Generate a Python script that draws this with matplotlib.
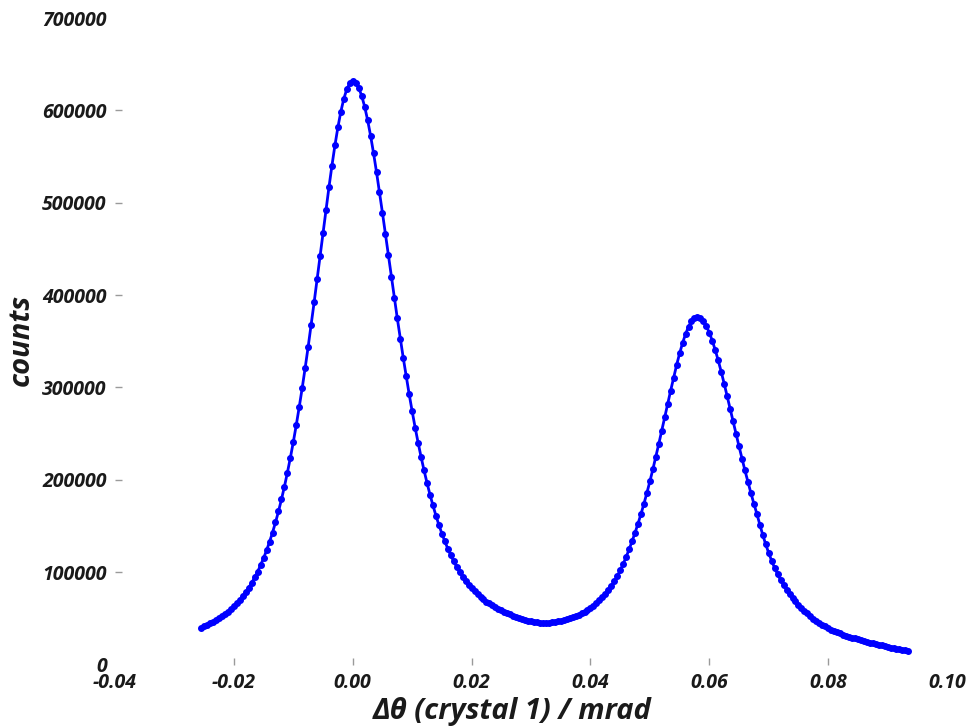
"""Rocking curve: counts vs. delta theta of crystal 1."""
import matplotlib
matplotlib.use('Agg')
import matplotlib.pyplot as plt

# ─── Data ──────────────────────────────────────────────────────────────────
dtheta = [
    -0.0255, -0.0250, -0.0245, -0.0240, -0.0235, -0.0230, -0.0225, -0.0220, -0.0215, -0.0210,
    -0.0205, -0.0200, -0.0195, -0.0190, -0.0185, -0.0180, -0.0175, -0.0170, -0.0165, -0.0160,
    -0.0155, -0.0150, -0.0145, -0.0140, -0.0135, -0.0130, -0.0125, -0.0120, -0.0115, -0.0110,
    -0.0105, -0.0100, -0.0095, -0.0090, -0.0085, -0.0080, -0.0075, -0.0070, -0.0065, -0.0060,
    -0.0055, -0.0050, -0.0045, -0.0040, -0.0035, -0.0030, -0.0025, -0.0020, -0.0015, -0.0010,
    -0.0005, 0.0000, 0.0005, 0.0010, 0.0015, 0.0020, 0.0025, 0.0030, 0.0035, 0.0040,
    0.0045, 0.0050, 0.0055, 0.0060, 0.0065, 0.0070, 0.0075, 0.0080, 0.0085, 0.0090,
    0.0095, 0.0100, 0.0105, 0.0110, 0.0115, 0.0120, 0.0125, 0.0130, 0.0135, 0.0140,
    0.0145, 0.0150, 0.0155, 0.0160, 0.0165, 0.0170, 0.0175, 0.0180, 0.0185, 0.0190,
    0.0195, 0.0200, 0.0205, 0.0210, 0.0215, 0.0220, 0.0225, 0.0230, 0.0235, 0.0240,
    0.0245, 0.0250, 0.0255, 0.0260, 0.0265, 0.0270, 0.0275, 0.0280, 0.0285, 0.0290,
    0.0295, 0.0300, 0.0305, 0.0310, 0.0315, 0.0320, 0.0325, 0.0330, 0.0335, 0.0340,
    0.0345, 0.0350, 0.0355, 0.0360, 0.0365, 0.0370, 0.0375, 0.0380, 0.0385, 0.0390,
    0.0395, 0.0400, 0.0405, 0.0410, 0.0415, 0.0420, 0.0425, 0.0430, 0.0435, 0.0440,
    0.0445, 0.0450, 0.0455, 0.0460, 0.0465, 0.0470, 0.0475, 0.0480, 0.0485, 0.0490,
    0.0495, 0.0500, 0.0505, 0.0510, 0.0515, 0.0520, 0.0525, 0.0530, 0.0535, 0.0540,
    0.0545, 0.0550, 0.0555, 0.0560, 0.0565, 0.0570, 0.0575, 0.0580, 0.0585, 0.0590,
    0.0595, 0.0600, 0.0605, 0.0610, 0.0615, 0.0620, 0.0625, 0.0630, 0.0635, 0.0640,
    0.0645, 0.0650, 0.0655, 0.0660, 0.0665, 0.0670, 0.0675, 0.0680, 0.0685, 0.0690,
    0.0695, 0.0700, 0.0705, 0.0710, 0.0715, 0.0720, 0.0725, 0.0730, 0.0735, 0.0740,
    0.0745, 0.0750, 0.0755, 0.0760, 0.0765, 0.0770, 0.0775, 0.0780, 0.0785, 0.0790,
    0.0795, 0.0800, 0.0805, 0.0810, 0.0815, 0.0820, 0.0825, 0.0830, 0.0835, 0.0840,
    0.0845, 0.0850, 0.0855, 0.0860, 0.0865, 0.0870, 0.0875, 0.0880, 0.0885, 0.0890,
    0.0895, 0.0900, 0.0905, 0.0910, 0.0915, 0.0920, 0.0925, 0.0930, 0.0935,
]

counts = [
    39800, 41300, 42800, 44500, 46200, 48200, 50200, 52400, 54800, 57400,
    60100, 63100, 66500, 70100, 74200, 78500, 83200, 88600, 94300, 100600,
    107700, 115300, 123600, 132900, 142900, 153900, 165700, 178700, 192600, 207700,
    223800, 241000, 259500, 279100, 299700, 321500, 344200, 367800, 392100, 417000,
    442300, 467500, 492600, 517000, 540300, 562100, 581700, 598800, 612700, 623000,
    629400, 631600, 629800, 624500, 615900, 604200, 589600, 572700, 553700, 533200,
    511500, 489000, 466100, 442900, 419800, 397000, 374700, 353000, 332000, 311900,
    292500, 274100, 256600, 240200, 224700, 210200, 196600, 183900, 172200, 161200,
    151100, 141800, 133300, 125400, 118200, 111600, 105600, 100100, 95100, 90600,
    86400, 82600, 79100, 76000, 73200, 70600, 68200, 66100, 64200, 62400,
    60500, 58800, 57200, 55700, 54300, 53000, 51700, 50500, 49400, 48400,
    47500, 46700, 46000, 45500, 45100, 45000, 45100, 45300, 45700, 46200,
    46800, 47500, 48300, 49200, 50200, 51300, 52600, 54000, 55600, 57300,
    59400, 61600, 63900, 66600, 69600, 72800, 76500, 80500, 85000, 89900,
    95600, 102000, 108800, 116300, 124600, 133400, 142600, 152500, 162900, 174100,
    185900, 198300, 211300, 224900, 238900, 253200, 267800, 282400, 296700, 310700,
    324300, 336800, 348100, 357800, 365800, 371600, 375100, 376200, 374900, 371700,
    366400, 359400, 350700, 340500, 329300, 317100, 304200, 290800, 277200, 263500,
    249800, 236200, 223000, 210100, 197700, 185700, 174200, 163300, 151500, 140300,
    130000, 120700, 112200, 104500, 97600, 91500, 86000, 81000, 76500, 72300,
    68400, 64800, 61500, 58400, 55300, 52500, 49800, 47400, 45200, 43100,
    41200, 39500, 37800, 36400, 35000, 33700, 32500, 31300, 30300, 29200,
    28300, 27400, 26600, 25800, 24900, 23800, 22900, 22000, 21300, 20600,
    19800, 19100, 18400, 17800, 17100, 16600, 16100, 15500, 15000,
]

x_ticks = [-0.04, -0.02, 0.00, 0.02, 0.04, 0.06, 0.08, 0.10]
x_labels = ['-0.04', '-0.02', '0.00', '0.02', '0.04', '0.06', '0.08', '0.10']
y_ticks = [0, 100000, 200000, 300000, 400000, 500000, 600000, 700000]
y_labels = ['0', '100000', '200000', '300000', '400000', '500000', '600000', '700000']

# ─── Style ─────────────────────────────────────────────────────────────────
FONT = ['Open Sans', 'DejaVu Sans']
C_LINE = '#0000FF'
C_TICK = '#9A9A9A'
C_TXT = '#1A1A1A'

fig = plt.figure(figsize=(9.7, 7.28), dpi=100)
ax = fig.add_axes([0.1186, 0.0872, 0.8577, 0.888])

ax.plot(dtheta, counts, color=C_LINE, lw=2.0, marker='o', ms=4.0,
        mec=C_LINE, mfc=C_LINE)

ax.set_xlim(-0.04, 0.10)
ax.set_ylim(0, 700000)
for s in ax.spines.values():
    s.set_visible(False)

ax.set_xticks(x_ticks)
ax.set_xticklabels(x_labels)
ax.set_yticks(y_ticks)
ax.set_yticklabels(y_labels)
ax.tick_params(direction='in', length=5, width=1, color=C_TICK, pad=6)

for lab in ax.get_xticklabels() + ax.get_yticklabels():
    lab.set_family(FONT)
    lab.set_fontweight('bold')
    lab.set_fontstyle('italic')
    lab.set_fontsize(14)
    lab.set_color(C_TXT)

# no tick marks at the corners
for t in (ax.xaxis.get_major_ticks()[0], ax.xaxis.get_major_ticks()[-1],
          ax.yaxis.get_major_ticks()[0], ax.yaxis.get_major_ticks()[-1]):
    t.tick1line.set_visible(False)

fig.text(0.528, 1 - 711 / 728, 'Δθ (crystal 1) / mrad', ha='center', va='center',
         family=FONT, fontweight='bold', fontstyle='italic', fontsize=21, color=C_TXT)
fig.text(0.022, 1 - 340 / 728, 'counts', ha='center', va='center', rotation=90,
         family=FONT, fontweight='bold', fontstyle='italic', fontsize=21, color=C_TXT)

fig.savefig('out.png', dpi=100, facecolor='white')
